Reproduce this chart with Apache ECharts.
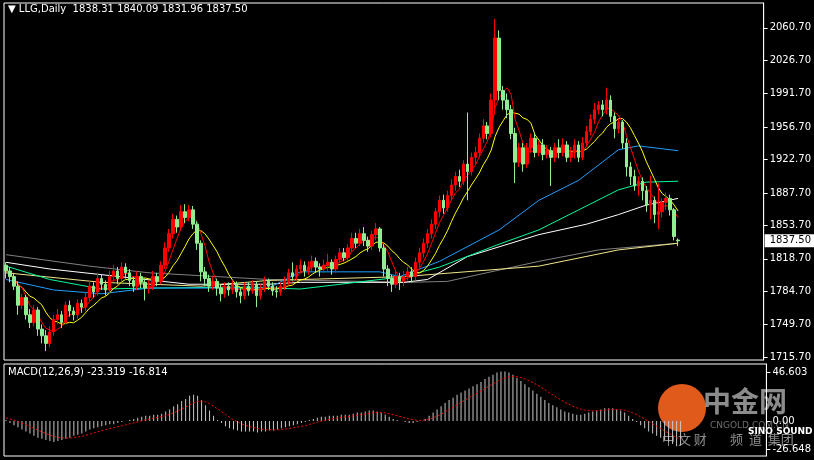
<!DOCTYPE html>
<html>
<head>
<meta charset="utf-8">
<script src="https://cdn.jsdelivr.net/npm/echarts@6/dist/echarts.min.js"></script>
<style>html,body{margin:0;padding:0;background:#000}#main{width:814px;height:460px}</style>
</head>
<body>
<div id="main"></div>
<script>
// daily candles: [open, close, low, high]
var candles = [
 [1812,1806,1798,1815],[1806,1800,1794,1810],[1800,1790,1786,1804],[1790,1770,1760,1795],[1770,1778,1766,1782],
 [1778,1760,1755,1781],[1760,1752,1746,1766],[1752,1765,1748,1770],[1765,1745,1738,1768],[1745,1738,1730,1750],
 [1738,1730,1722,1744],[1730,1742,1726,1748],[1742,1755,1738,1760],[1755,1760,1750,1766],[1760,1752,1746,1764],
 [1752,1770,1750,1774],[1770,1764,1758,1775],[1764,1760,1754,1768],[1760,1772,1756,1776],[1772,1768,1762,1776],
 [1768,1778,1764,1784],[1778,1790,1774,1796],[1790,1784,1778,1794],[1784,1798,1780,1804],[1798,1792,1786,1802],
 [1792,1786,1780,1796],[1786,1800,1782,1806],[1800,1806,1795,1812],[1806,1798,1792,1810],[1798,1810,1794,1815],
 [1810,1804,1798,1814],[1804,1796,1790,1808],[1796,1790,1784,1800],[1790,1800,1786,1806],[1800,1794,1788,1804],
 [1794,1788,1775,1798],[1788,1790,1782,1796],[1790,1800,1786,1806],[1800,1795,1790,1804],[1795,1812,1792,1816],
 [1812,1830,1808,1836],[1830,1845,1826,1850],[1845,1860,1840,1866],[1860,1852,1846,1864],[1852,1868,1848,1875],
 [1868,1862,1856,1876],[1862,1870,1858,1875],[1870,1855,1850,1874],[1855,1835,1828,1858],[1835,1805,1795,1838],
 [1805,1798,1790,1810],[1798,1790,1784,1802],[1790,1795,1786,1800],[1795,1788,1780,1798],[1788,1782,1774,1792],
 [1782,1790,1778,1794],[1790,1786,1780,1794],[1786,1792,1782,1796],[1792,1784,1778,1795],[1784,1780,1772,1788],
 [1780,1790,1776,1794],[1790,1785,1780,1794],[1785,1792,1782,1796],[1792,1780,1768,1795],[1780,1788,1776,1792],
 [1788,1795,1784,1800],[1795,1790,1786,1798],[1790,1785,1780,1794],[1785,1784,1778,1790],[1784,1790,1780,1794],
 [1790,1795,1786,1800],[1795,1804,1792,1808],[1804,1800,1796,1815],[1800,1808,1796,1812],[1808,1812,1804,1818],
 [1812,1806,1800,1816],[1806,1810,1802,1816],[1810,1816,1806,1822],[1816,1810,1804,1820],[1810,1808,1800,1814],
 [1808,1812,1804,1818],[1812,1815,1806,1824],[1815,1808,1802,1818],[1808,1818,1804,1822],[1818,1825,1814,1830],
 [1825,1820,1816,1830],[1820,1830,1816,1834],[1830,1840,1826,1846],[1840,1835,1830,1846],[1835,1845,1832,1850],
 [1845,1838,1832,1852],[1838,1832,1826,1842],[1832,1844,1828,1848],[1844,1850,1838,1856],[1850,1830,1826,1852],
 [1830,1808,1800,1834],[1808,1798,1790,1812],[1798,1792,1784,1802],[1792,1800,1788,1806],[1800,1795,1786,1804],
 [1795,1800,1790,1806],[1800,1805,1796,1810],[1805,1800,1794,1810],[1800,1815,1796,1820],[1815,1825,1810,1830],
 [1825,1835,1820,1840],[1835,1845,1830,1850],[1845,1855,1840,1860],[1855,1868,1850,1872],[1868,1880,1862,1885],
 [1880,1872,1866,1886],[1872,1885,1868,1890],[1885,1896,1880,1902],[1896,1905,1890,1910],[1905,1900,1894,1912],
 [1900,1918,1896,1922],[1918,1910,1880,1972],[1910,1925,1906,1930],[1925,1930,1918,1936],[1930,1945,1925,1950],
 [1945,1958,1940,1965],[1958,1950,1944,1962],[1950,1985,1946,1992],[1985,2050,1970,2070],[2050,1995,1985,2058],
 [1995,1985,1975,2000],[1985,1975,1966,1992],[1975,1950,1944,1980],[1950,1920,1898,1956],[1920,1935,1915,1940],
 [1935,1918,1910,1940],[1918,1935,1914,1940],[1935,1945,1930,1950],[1945,1930,1925,1950],[1930,1938,1926,1942],
 [1938,1928,1922,1944],[1928,1932,1924,1938],[1932,1925,1895,1936],[1925,1935,1920,1940],[1935,1930,1924,1944],
 [1930,1938,1926,1945],[1938,1925,1920,1942],[1925,1930,1920,1936],[1930,1938,1924,1944],[1938,1925,1920,1942],
 [1925,1940,1922,1946],[1940,1952,1936,1958],[1952,1965,1948,1970],[1965,1975,1960,1982],[1975,1980,1970,1984],
 [1980,1975,1968,1985],[1975,1985,1970,1998],[1985,1968,1962,1990],[1968,1955,1945,1972],[1955,1962,1950,1966],
 [1962,1940,1934,1964],[1940,1915,1905,1945],[1915,1905,1896,1920],[1905,1895,1890,1912],[1895,1900,1885,1905],
 [1900,1890,1880,1904],[1890,1875,1868,1895],[1875,1880,1860,1906],[1880,1865,1856,1884],[1865,1868,1850,1898],
 [1868,1878,1862,1882],[1878,1882,1870,1888],[1882,1870,1864,1886],[1870,1842,1838,1872],[1838.31,1837.50,1831.96,1840.09]
];

// long moving averages: [candle index, price]
var maBlue = [[0,1797],[12,1786],[24,1782],[36,1788],[66,1788],[74,1805],[94,1805],[99,1800],[109,1816],[124,1849],[134,1880],[144,1901],[154,1933],[159,1937],[169,1932]];
var maGreen = [[0,1811],[11,1797],[24,1787],[36,1788],[61,1789],[74,1787],[100,1800],[109,1810],[124,1834],[134,1849],[144,1870],[154,1891],[161,1899],[169,1900]];
var maWhite = [[0,1815],[11,1808],[46,1792],[66,1792],[74,1794],[100,1794],[106,1797],[116,1821],[134,1844],[146,1855],[154,1865],[161,1875],[169,1882]];
var maTan = [[0,1804],[24,1794],[49,1790],[66,1796],[100,1800],[134,1811],[154,1828],[169,1835]];
var maGray = [[0,1823],[21,1811],[36,1804],[66,1797],[101,1794],[111,1795],[134,1816],[149,1828],[169,1835]];

var macd = [1,-2,
 -4,-6,-8,-10,-12,-14,-16,-17,-18,-19,
 -20,-19,-18,-17,-16,-14,-13,-12,-10,
 -8,-7,-6,-5,-4,-3,-3,-2,
 -1,0,1,2,3,4,5,5,6,6,7,9,
 11,14,16,19,21,24,25,24,20,
 15,10,5,1,-2,-5,
 -7,-8,-9,-10,-10,-10,-10,-11,-10,-10,-9,-9,-8,-7,-6,-5,-4,-3,-2,-1,
 1,2,3,4,4,5,5,5,6,6,6,7,8,8,9,10,10,9,8,6,
 4,2,1,0,-1,-2,-2,-1,0,2,
 5,8,11,14,17,20,22,25,27,29,31,33,35,37,40,42,44,46,47,47,
 46,44,41,38,35,32,29,26,23,20,17,15,13,11,9,
 8,7,6,6,7,8,9,10,11,12,
 12,12,11,10,8,5,
 2,-1,-4,-7,-10,-12,-14,-16,-18,-20,-22,-24,-23.3];

var priceTicks = [1715.7,1749.7,1784.7,1818.7,1853.7,1887.7,1922.7,1956.7,1991.7,2026.7,2060.7];
var macdTicks = [-26.648, 0, 46.603];
var slots = 191;

var cats = [];
for (var i = 0; i < slots; i++) cats.push(i);
var closes = candles.map(function (c) { return c[1]; });

function sma(n) {
    var out = [];
    for (var i = 0; i < closes.length; i++) {
        var s = 0, k = 0;
        for (var j = Math.max(0, i - n + 1); j <= i; j++) { s += closes[j]; k++; }
        out.push(+(s / k).toFixed(2));
    }
    return out;
}
var signal = [];
var a = 2 / 10;
for (var i = 0; i < macd.length; i++) {
    signal.push(i == 0 ? 3 : +(signal[i - 1] + a * (macd[i] - signal[i - 1])).toFixed(3));
}

function maLine(data, color) {
    return { type: 'line', data: data, showSymbol: false, symbol: 'none', connectNulls: true,
        lineStyle: { color: color, width: 1 }, silent: true, z: 3 };
}

var font = 'DejaVu Sans';
var chart = echarts.init(document.getElementById('main'));
chart.setOption({
    backgroundColor: '#000',
    animation: false,
    textStyle: { fontFamily: font },
    graphic: [
        { type: 'text', left: 8, top: 4, style: { text: '\u25BC LLG,Daily  1838.31 1840.09 1831.96 1837.50', fill: '#fff', font: '10px ' + font } },
        { type: 'text', left: 8, top: 367, style: { text: 'MACD(12,26,9) -23.319 -16.814', fill: '#fff', font: '10px ' + font } },
        { type: 'circle', shape: { cx: 682, cy: 408, r: 24 }, style: { fill: '#e05a1c' } },
        { type: 'text', left: 703, top: 387, style: { text: '\u4e2d\u91d1\u7f51', fill: 'rgba(200,200,200,0.7)', font: 'bold 28px "Noto Sans CJK SC"' } },
        { type: 'text', left: 710, top: 421, style: { text: 'CNGOLD.COM.CN', fill: 'rgba(180,180,180,0.6)', font: '9px ' + font } },
        { type: 'text', left: 748, top: 427, style: { text: 'SINO SOUND', fill: '#fff', font: 'bold 9px ' + font } },
        { type: 'text', left: 662, top: 433, style: { text: '\u4e2d \u6587 \u8d22        \u9891  \u9053  \u96c6\u56e2', fill: 'rgba(200,200,200,0.7)', font: '13px "Noto Sans CJK SC"' } }
    ],
    grid: [
        { left: 4, top: 3, width: 764, height: 357, show: true, borderColor: '#fff', borderWidth: 1, backgroundColor: 'transparent' },
        { left: 4, top: 364, width: 764, height: 92, show: true, borderColor: '#fff', borderWidth: 1, backgroundColor: 'transparent' }
    ],
    xAxis: [
        { type: 'category', data: cats, gridIndex: 0, axisLine: { show: false }, axisTick: { show: false }, axisLabel: { show: false } },
        { type: 'category', data: cats, gridIndex: 1, axisLine: { show: false }, axisTick: { show: false }, axisLabel: { show: false } }
    ],
    yAxis: [
        { type: 'value', gridIndex: 0, position: 'right', min: 1712.6, max: 2086.8, splitLine: { show: false },
          axisLine: { show: true, lineStyle: { color: '#fff' } },
          axisTick: { show: true, length: 4, customValues: priceTicks, lineStyle: { color: '#fff' } },
          axisLabel: { customValues: priceTicks, color: '#fff', fontSize: 10, margin: 6, formatter: function (v) { return v.toFixed(2); } } },
        { type: 'value', gridIndex: 1, position: 'right', min: -33.3, max: 54.2, splitLine: { show: false },
          axisLine: { show: true, lineStyle: { color: '#fff' } },
          axisTick: { show: true, length: 4, customValues: macdTicks, lineStyle: { color: '#fff' } },
          axisLabel: { customValues: macdTicks, color: '#fff', fontSize: 10, margin: 6, formatter: function (v) { return v == 0 ? '0.00' : v.toFixed(3); } } }
    ],
    series: [
        { type: 'candlestick', data: candles, barWidth: 3, z: 4,
          itemStyle: { color: '#ff0000', color0: '#90ee90', borderColor: '#ff0000', borderColor0: '#90ee90', borderWidth: 1 },
          markLine: { symbol: 'none', silent: true, lineStyle: { color: 'transparent', width: 1, type: 'solid' },
              data: [{ yAxis: 1837.5 }],
              label: { show: true, position: 'end', formatter: '1837.50', backgroundColor: '#fff', color: '#000', fontSize: 10, padding: [2, 5, 1, 5], distance: 1 } } },
        maLine(maGray, '#808080'),
        maLine(maTan, '#f0e68c'),
        maLine(maWhite, '#ffffff'),
        maLine(maGreen, '#00fa9a'),
        maLine(maBlue, '#1e9fff'),
        maLine(sma(10), '#ffff00'),
        maLine(sma(5), '#ff0000'),
        { type: 'bar', xAxisIndex: 1, yAxisIndex: 1, data: macd, barWidth: 1, itemStyle: { color: '#c8c8c8' }, silent: true },
        { type: 'line', xAxisIndex: 1, yAxisIndex: 1, data: signal, showSymbol: false, symbol: 'none',
          lineStyle: { color: '#ff0000', width: 1, type: [2, 2] }, silent: true }
    ]
});
</script>
</body>
</html>
